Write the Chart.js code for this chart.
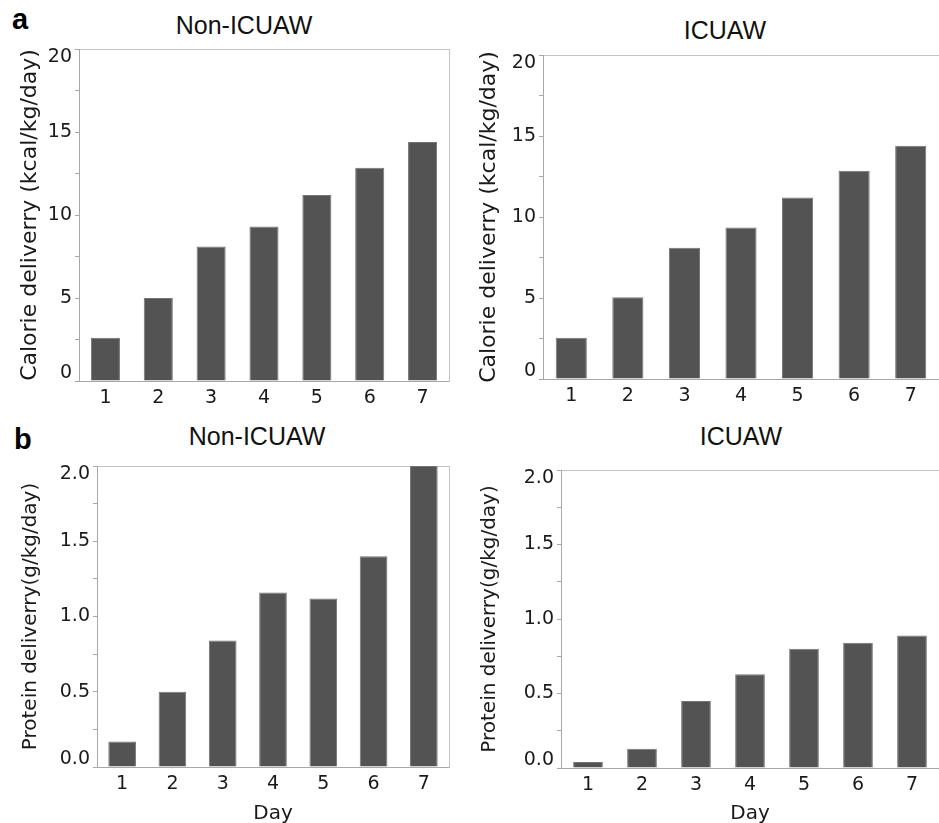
<!DOCTYPE html>
<html>
<head>
<meta charset="utf-8">
<script src="https://cdn.jsdelivr.net/npm/chart.js@4.4.1/dist/chart.umd.min.js"></script>
<style>
body{margin:0;background:#fff;}
#page{position:relative;width:939px;height:823px;overflow:hidden;background:#fff;}
canvas{position:absolute;}
.ttl{position:absolute;font-family:"Liberation Sans",Arial,sans-serif;font-size:25px;color:#111;transform:translate(-50%,-50%);white-space:nowrap;line-height:1.15;}
.tag{position:absolute;font-family:"Liberation Sans",Arial,sans-serif;font-weight:bold;font-size:29px;line-height:1;color:#000;}
</style>
</head>
<body>
<div id="page">
  <div class="tag" style="left:12px;top:5px;">a</div>
  <div class="tag" style="left:14px;top:425px;">b</div>
  <div class="ttl" style="left:244px;top:25px;">Non-ICUAW</div>
  <div class="ttl" style="left:725px;top:30px;">ICUAW</div>
  <div class="ttl" style="left:257px;top:436px;">Non-ICUAW</div>
  <div class="ttl" style="left:741px;top:436px;">ICUAW</div>
  <canvas id="calNon" width="460" height="380" style="left:0;top:40px;"></canvas>
  <canvas id="calIcu" width="469" height="380" style="left:470px;top:40px;"></canvas>
  <canvas id="proNon" width="460" height="373" style="left:0;top:450px;"></canvas>
  <canvas id="proIcu" width="469" height="373" style="left:470px;top:450px;"></canvas>
</div>
<script>
const days=["1","2","3","4","5","6","7"];

const calorieNonIcuaw=[2.6,5.0,8.1,9.3,11.2,12.85,14.4];
const calorieIcuaw=[2.55,5.05,8.1,9.35,11.2,12.85,14.4];

const proteinNonIcuaw=[0.17,0.5,0.84,1.16,1.12,1.4,2.0];
const proteinIcuaw=[0.04,0.13,0.45,0.63,0.8,0.84,0.89];

// labelled ticks, minor ticks sit halfway between
const calorieTicks=[0,5,10,15,20];
const proteinTicks=[0,0.5,1.0,1.5,2.0];

const axisColor="#a8a8a8";
const boxColor="#c4c4c4";
const textColor="#1a1a1a";

function makeChart(id,values,cfg){

    const canvas=document.getElementById(id);

    const step=(cfg.major[1]-cfg.major[0])/2;

    return new Chart(canvas,{

        type:"bar",

        data:{
            labels:days,
            datasets:[
                {
                    data:values,
                    backgroundColor:"#535353",
                    borderColor:"#747474",
                    borderWidth:1,
                    borderSkipped:"bottom",
                    barPercentage:0.55,
                    categoryPercentage:1
                }
            ]
        },

        options:{
            responsive:false,
            devicePixelRatio:1,
            animation:false,
            layout:{
                padding:{top:cfg.padTop,right:cfg.padRight,left:0,bottom:0}
            },
            plugins:{
                legend:{display:false},
                tooltip:{enabled:false},
                title:{display:false}
            },
            scales:{
                x:{
                    afterFit:function(scale){
                        scale.height=cfg.xHeight;
                        scale.paddingLeft=0;
                        scale.paddingRight=0;
                    },
                    border:{color:axisColor,width:1},
                    grid:{drawOnChartArea:false,drawTicks:false},
                    ticks:{
                        padding:6,
                        color:textColor,
                        font:{family:"DejaVu Sans",size:19}
                    },
                    title:{
                        display:cfg.showDay,
                        text:"Day",
                        color:textColor,
                        font:{family:"DejaVu Sans",size:20},
                        padding:{top:0,bottom:-3}
                    }
                },
                xTop:{
                    type:"category",
                    position:"top",
                    afterFit:function(scale){scale.height=0;},
                    border:{color:boxColor,width:1},
                    grid:{drawOnChartArea:false,drawTicks:false},
                    ticks:{display:false}
                },
                y:{
                    min:0,
                    max:cfg.major[cfg.major.length-1],
                    afterFit:function(scale){
                        scale.width=cfg.yWidth;
                        scale.paddingTop=0;
                        scale.paddingBottom=0;
                    },
                    border:{color:axisColor,width:1},
                    grid:{drawOnChartArea:false,drawTicks:true,tickLength:4,color:axisColor},
                    ticks:{
                        stepSize:step,
                        autoSkip:false,
                        padding:3,
                        color:textColor,
                        font:{family:"DejaVu Sans",size:19,lineHeight:"16px"},
                        callback:function(value,index,ticks){
                            const isMajor=cfg.major.some(function(m){return Math.abs(m-value)<1e-6;});
                            if(!isMajor) return "";
                            const txt=value.toFixed(cfg.decimals);
                            // end labels are pulled inside the axis like the original
                            if(index===0) return [txt,""];
                            if(index===ticks.length-1) return ["",txt];
                            return txt;
                        }
                    },
                    title:{
                        display:true,
                        text:cfg.yTitle,
                        color:textColor,
                        font:{family:"DejaVu Sans",size:cfg.yTitleSize},
                        padding:{top:cfg.yTitlePad,bottom:0}
                    }
                },
                yRight:{
                    type:"linear",
                    position:"right",
                    display:cfg.boxRight,
                    afterFit:function(scale){
                        scale.width=0;
                        scale.paddingTop=0;
                        scale.paddingBottom=0;
                    },
                    border:{color:boxColor,width:1},
                    grid:{drawOnChartArea:false,drawTicks:false},
                    ticks:{display:false}
                }
            }
        }

    });

}

makeChart("calNon",calorieNonIcuaw,{
    major:calorieTicks,decimals:0,
    yTitle:"Calorie deliverry (kcal/kg/day)",yTitleSize:22,yTitlePad:17,
    padTop:9,padRight:11,yWidth:79,xHeight:39,showDay:false,boxRight:true
});

makeChart("calIcu",calorieIcuaw,{
    major:calorieTicks,decimals:0,
    yTitle:"Calorie deliverry (kcal/kg/day)",yTitleSize:22,yTitlePad:6,
    padTop:15,padRight:0,yWidth:73,xHeight:41,showDay:false,boxRight:false
});

makeChart("proNon",proteinNonIcuaw,{
    major:proteinTicks,decimals:1,
    yTitle:"Protein deliverry(g/kg/day)",yTitleSize:20,yTitlePad:19,
    padTop:16,padRight:11,yWidth:97,xHeight:56,showDay:true,boxRight:true
});

makeChart("proIcu",proteinIcuaw,{
    major:proteinTicks,decimals:1,
    yTitle:"Protein deliverry(g/kg/day)",yTitleSize:20,yTitlePad:8,
    padTop:20,padRight:0,yWidth:91,xHeight:55,showDay:true,boxRight:false
});
</script>
</body>
</html>
